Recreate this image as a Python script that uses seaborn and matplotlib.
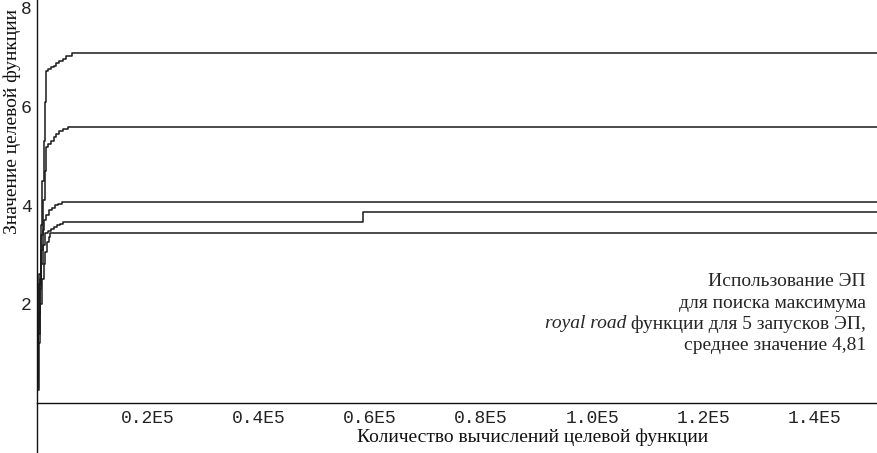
import numpy as np
import pandas as pd
import seaborn as sns
import matplotlib.pyplot as plt

# Data: 5 runs of EP on royal road function (step curves)
X_END = 151500

run1_x = [0, 200, 450, 700, 950, 1250, 1450, 1600, 2000, 2500, 3000, 3500, 4000, 4600, 5200, 6300, X_END]
run1_y = [0.3, 1.5, 2.6, 3.6, 4.5, 5.3, 6.1, 6.72, 6.76, 6.8, 6.83, 6.88, 6.92, 6.97, 7.02, 7.09, 7.09]

run2_x = [0, 250, 500, 800, 1100, 1400, 1600, 2000, 2500, 3000, 3500, 4000, 4600, 5600, X_END]
run2_y = [0.5, 1.4, 2.5, 3.4, 4.1, 4.7, 5.18, 5.24, 5.3, 5.38, 5.44, 5.5, 5.55, 5.59, 5.59]

run3_x = [0, 200, 450, 700, 1000, 1300, 1700, 2200, 2700, 3200, 3800, 4500, X_END]
run3_y = [0.6, 1.6, 2.4, 3.1, 3.5, 3.7, 3.8, 3.9, 3.95, 4.0, 4.03, 4.07, 4.07]

run4_x = [0, 250, 500, 800, 1100, 1500, 2000, 2500, 3000, 3600, 4200, 4700, 58700, X_END]
run4_y = [0.9, 1.8, 2.3, 2.8, 3.2, 3.44, 3.48, 3.52, 3.56, 3.6, 3.63, 3.66, 3.87, 3.87]

run5_x = [0, 300, 600, 900, 1200, 1500, 1800, 2100, 2400, X_END]
run5_y = [0.25, 1.2, 2.0, 2.5, 2.8, 3.05, 3.25, 3.35, 3.44, 3.44]

runs = [(run1_x, run1_y), (run2_x, run2_y), (run3_x, run3_y), (run4_x, run4_y), (run5_x, run5_y)]

xtick_vals = [20000, 40000, 60000, 80000, 100000, 120000, 140000]
xtick_labels = ['0.2E5', '0.4E5', '0.6E5', '0.8E5', '1.0E5', '1.2E5', '1.4E5']
ytick_vals = [2, 4, 6, 8]
ytick_labels = ['2', '4', '6', '8']

sns.set_style('white')
plt.rcParams['font.family'] = ['Liberation Serif', 'DejaVu Serif']

fig = plt.figure(figsize=(8.78, 4.53), dpi=100)
ax = fig.add_axes([37 / 878, 0, 841 / 878, 1])

for xs, ys in runs:
    df = pd.DataFrame({'x': xs, 'y': ys})
    sns.lineplot(data=df, x='x', y='y', ax=ax, color='#1a1a1a', linewidth=1.1,
                 drawstyle='steps-post', estimator=None, sort=False)

ax.set_xlim(0, X_END)
ax.set_ylim(-1.02, 8.16)

for s in ['top', 'right']:
    ax.spines[s].set_visible(False)
ax.spines['left'].set_position(('data', 0))
ax.spines['bottom'].set_position(('data', 0))
for s in ['left', 'bottom']:
    ax.spines[s].set_color('#111111')
    ax.spines[s].set_linewidth(1.0)

ax.set_xticks(xtick_vals)
ax.set_xticklabels(xtick_labels, family='Liberation Mono', fontsize=13, color='#222222')
ax.set_yticks(ytick_vals)
ax.set_yticklabels(ytick_labels, family='Liberation Mono', fontsize=13, color='#222222')
ax.tick_params(axis='x', direction='in', length=5, width=1, color='#111111', pad=5)
ax.tick_params(axis='y', direction='in', length=5, width=1, color='#111111', pad=4)

ax.set_xlabel('Количество вычислений целевой функции', fontsize=14, color='#111111')
ax.xaxis.set_label_coords((533 - 37) / 841, (453 - 428) / 453)
ax.set_ylabel('Значение целевой функции', fontsize=14, color='#111111')
ax.yaxis.set_label_coords((21 - 37) / 841, (453 - 121) / 453)

tx = (866 - 37) / 841
fs = 14
ax.text(tx, (453 - 282) / 453, 'Использование ЭП', transform=ax.transAxes, ha='right', va='center', fontsize=fs)
ax.text(tx, (453 - 303) / 453, 'для поиска максимума', transform=ax.transAxes, ha='right', va='center', fontsize=fs)
t3 = ax.text(tx, (453 - 324) / 453, ' функции для 5 запусков ЭП,', transform=ax.transAxes, ha='right', va='center', fontsize=fs)
ax.annotate('royal road', xy=(0, 0.5), xycoords=t3, ha='right', va='center', fontsize=fs, style='italic')
ax.text(tx, (453 - 345) / 453, 'среднее значение 4,81', transform=ax.transAxes, ha='right', va='center', fontsize=fs)

fig.savefig('out.png', dpi=100)
